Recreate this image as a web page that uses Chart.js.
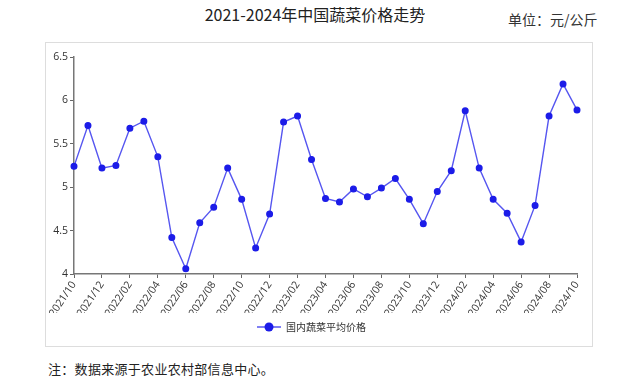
<!DOCTYPE html>
<html>
<head>
<meta charset="utf-8">
<script src="https://cdn.jsdelivr.net/npm/chart.js@4"></script>
<style>
  html, body { margin: 0; padding: 0; background: #fff; }
  body { width: 640px; height: 384px; position: relative; overflow: hidden; font-family: "Noto Sans CJK SC", sans-serif; }
  #title { position: absolute; left: 0; top: 2px; width: 630px; text-align: center; font-size: 16px; color: #222; }
  #unit { position: absolute; left: 508px; top: 9px; font-size: 14px; color: #333; }
  #box { position: absolute; left: 45px; top: 42px; width: 546px; height: 303px; border: 1px solid #ddd; }
  #note { position: absolute; left: 48px; top: 359px; font-size: 13px; letter-spacing: 0.3px; color: #222; }
</style>
</head>
<body>
<div id="title">2021-2024年中国蔬菜价格走势</div>
<div id="unit">单位：元/公斤</div>
<div id="box"><canvas id="c" width="546" height="303"></canvas></div>
<div id="note">注：数据来源于农业农村部信息中心。</div>
<script>
const months = [
  "2021/10","2021/11","2021/12",
  "2022/01","2022/02","2022/03","2022/04","2022/05","2022/06","2022/07","2022/08","2022/09","2022/10","2022/11","2022/12",
  "2023/01","2023/02","2023/03","2023/04","2023/05","2023/06","2023/07","2023/08","2023/09","2023/10","2023/11","2023/12",
  "2024/01","2024/02","2024/03","2024/04","2024/05","2024/06","2024/07","2024/08","2024/09","2024/10"
];
const prices = [
  5.24, 5.71, 5.22,
  5.25, 5.68, 5.76, 5.35, 4.42, 4.06, 4.59, 4.77, 5.22, 4.86, 4.30, 4.69,
  5.75, 5.82, 5.32, 4.87, 4.83, 4.98, 4.89, 4.99, 5.10, 4.86, 4.58, 4.95,
  5.19, 5.88, 5.22, 4.86, 4.70, 4.37, 4.79, 5.82, 6.19, 5.89
];
const seriesName = "国内蔬菜平均价格";
const yTicks = [4, 4.5, 5, 5.5, 6, 6.5];

const lineColor = "#5656f0";
const pointColor = "#1c1ce8";

// legend marker: line with dot
const marker = document.createElement("canvas");
marker.width = 24; marker.height = 12;
(function(){
  const g = marker.getContext("2d");
  g.strokeStyle = lineColor; g.lineWidth = 1.5;
  g.beginPath(); g.moveTo(0, 6); g.lineTo(24, 6); g.stroke();
  g.fillStyle = pointColor;
  g.beginPath(); g.arc(12, 6, 4.5, 0, Math.PI * 2); g.fill();
})();

new Chart(document.getElementById("c"), {
  type: "line",
  data: {
    labels: months,
    datasets: [{
      label: seriesName,
      data: prices,
      borderColor: lineColor,
      backgroundColor: pointColor,
      pointBackgroundColor: pointColor,
      pointBorderColor: pointColor,
      borderWidth: 1.4,
      pointRadius: 2.8,
      tension: 0,
      pointStyle: "circle"
    }]
  },
  options: {
    responsive: false,
    animation: false,
    layout: { padding: { left: 0, right: 15, top: 14, bottom: 4 } },
    plugins: {
      tooltip: { enabled: false },
      legend: {
        position: "bottom",
        labels: {
          usePointStyle: true,
          pointStyle: marker,
          pointStyleWidth: 24,
          color: "#333",
          font: { family: "Noto Sans CJK SC", size: 10 },
          padding: 9
        }
      }
    },
    scales: {
      x: {
        grid: {
          drawOnChartArea: false,
          drawTicks: true,
          tickLength: 4,
          color: (ctx) => (ctx.index % 2 === 0 ? "#666" : "rgba(0,0,0,0)")
        },
        border: { display: true, color: "#777", width: 1.5 },
        ticks: {
          autoSkip: false,
          maxRotation: 56,
          minRotation: 56,
          padding: 1,
          color: "#333",
          font: { family: "Open Sans", size: 10.5 },
          callback: function(v, i) { return i % 2 === 0 ? months[i] : ""; }
        },
        afterFit: (s) => { s.height = 39; }
      },
      y: {
        min: 4,
        max: 6.5,
        afterBuildTicks: (s) => { s.ticks = yTicks.map(v => ({ value: v })); },
        grid: { drawOnChartArea: false, drawTicks: true, tickLength: 4, color: "#666" },
        border: { display: true, color: "#777", width: 1.5 },
        ticks: {
          color: "#333",
          padding: 2,
          font: { family: "Open Sans", size: 10.5 },
          callback: (v) => String(v)
        },
        afterFit: (s) => { s.width = 28; }
      }
    }
  }
});
</script>
</body>
</html>
